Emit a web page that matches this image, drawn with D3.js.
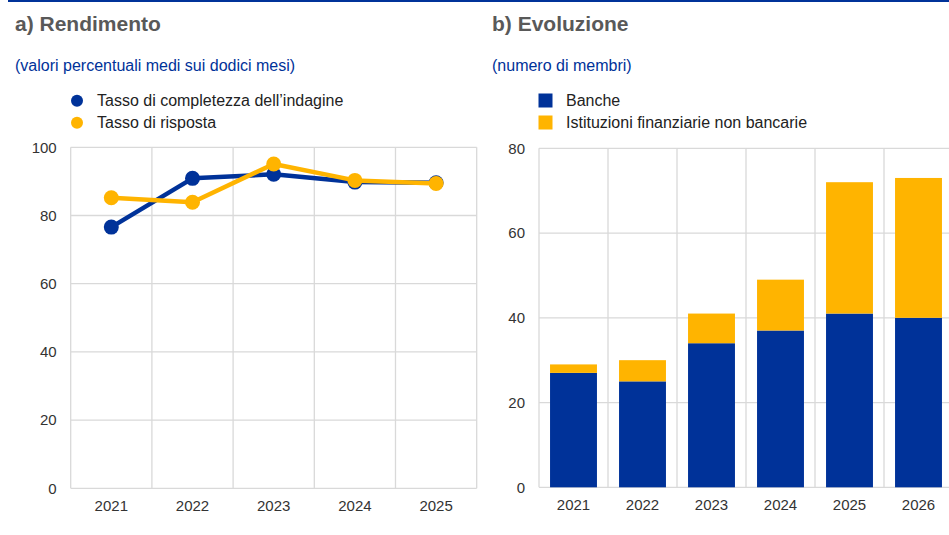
<!DOCTYPE html>
<html><head><meta charset="utf-8">
<script src="https://cdn.jsdelivr.net/npm/d3@7"></script>
<style>body{margin:0;background:#fff;}svg{display:block;font-family:"Liberation Sans",Arial,sans-serif;}</style>
</head><body>
<svg id="c" width="949" height="535"></svg>
<script>
// Panel a data
const yearsA = ["2021","2022","2023","2024","2025"];
const completezza = [76.6, 90.9, 92.1, 89.8, 89.6];
const risposta = [85.2, 83.9, 95.1, 90.3, 89.4];
const ticksA = [0,20,40,60,80,100];
// Panel b data
const yearsB = ["2021","2022","2023","2024","2025","2026"];
const banche = [27, 25, 34, 37, 41, 40];
const nonBancarie = [2, 5, 7, 12, 31, 33];
const ticksB = [0,20,40,60,80];

const BLUE = "#003299", YELLOW = "#FFB400", GRID = "#d9d9d9", TXT = "#333", TITLE = "#595959";
const svg = d3.select("#c");

svg.append("rect").attr("x",8).attr("y",0).attr("width",941).attr("height",2).attr("fill",BLUE);

function header(x, title, sub) {
  svg.append("text").attr("x",x).attr("y",31).attr("font-size",21).attr("font-weight","bold").attr("fill",TITLE).text(title);
  svg.append("text").attr("x",x).attr("y",71).attr("font-size",16).attr("fill",BLUE).text(sub);
}
header(15,"a) Rendimento","(valori percentuali medi sui dodici mesi)");
header(492,"b) Evoluzione","(numero di membri)");

// ---- Panel a
const xa = d3.scaleBand().domain(yearsA).range([70.7,476.7]);
const ya = d3.scaleLinear().domain([0,100]).range([488.3,147.3]);
const ga = svg.append("g");
ga.selectAll("line.h").data(ticksA).join("line").attr("x1",70.7).attr("x2",476.7)
  .attr("y1",d=>ya(d)).attr("y2",d=>ya(d)).attr("stroke",GRID).attr("stroke-width",1.3);
const vxA = yearsA.map(d=>xa(d)).concat([xa.range()[1]]);
ga.selectAll("line.v").data(vxA).join("line").attr("x1",d=>d).attr("x2",d=>d)
  .attr("y1",147.3).attr("y2",488.3).attr("stroke",GRID).attr("stroke-width",1.3);
const axA = d3.axisLeft(ya).tickValues(ticksA).tickSize(0).tickPadding(14);
const gya = svg.append("g").attr("transform","translate(70.7,0)").call(axA);
gya.select(".domain").remove();
gya.selectAll("text").attr("font-size",15).attr("fill",TXT).attr("font-family","Liberation Sans, Arial, sans-serif");
const axAx = d3.axisBottom(xa).tickSize(0).tickPadding(12);
const gxa = svg.append("g").attr("transform","translate(0,488.3)").call(axAx);
gxa.select(".domain").remove();
gxa.selectAll("text").attr("font-size",15).attr("fill",TXT).attr("font-family","Liberation Sans, Arial, sans-serif");

const line = d3.line().x((d,i)=>xa(yearsA[i])+xa.bandwidth()/2).y(d=>ya(d));
[[completezza,BLUE],[risposta,YELLOW]].forEach(([s,c])=>{
  ga.append("path").attr("d",line(s)).attr("fill","none").attr("stroke",c).attr("stroke-width",4.5).attr("stroke-linejoin","round");
  ga.selectAll(null).data(s).join("circle").attr("cx",(d,i)=>xa(yearsA[i])+xa.bandwidth()/2).attr("cy",d=>ya(d)).attr("r",7.5).attr("fill",c);
});

// legend a
const legA = [["Tasso di completezza dell\u2019indagine",BLUE],["Tasso di risposta",YELLOW]];
legA.forEach(([t,c],i)=>{
  svg.append("circle").attr("cx",77).attr("cy",100.7+i*22).attr("r",6).attr("fill",c);
  svg.append("text").attr("x",97).attr("y",106+i*22).attr("font-size",16).attr("fill","#222").text(t);
});

// ---- Panel b
const xb = d3.scaleBand().domain(yearsB).range([539,953]).paddingInner(0.32).paddingOuter(0.16);
const xbFull = d3.scaleBand().domain(yearsB).range([539,953]);
const yb = d3.scaleLinear().domain([0,80]).range([487.3,148.3]);
const gb = svg.append("g");
gb.selectAll("line.h").data(ticksB).join("line").attr("x1",539).attr("x2",953)
  .attr("y1",d=>yb(d)).attr("y2",d=>yb(d)).attr("stroke",GRID).attr("stroke-width",1.3);
gb.selectAll("line.v").data(yearsB.map(d=>xbFull(d))).join("line").attr("x1",d=>d).attr("x2",d=>d)
  .attr("y1",148.3).attr("y2",487.3).attr("stroke",GRID).attr("stroke-width",1.3);
const gyb = svg.append("g").attr("transform","translate(539,0)").call(d3.axisLeft(yb).tickValues(ticksB).tickSize(0).tickPadding(14));
gyb.select(".domain").remove();
gyb.selectAll("text").attr("font-size",15).attr("fill",TXT).attr("font-family","Liberation Sans, Arial, sans-serif");
const gxb = svg.append("g").attr("transform","translate(0,487.3)").call(d3.axisBottom(xbFull).tickSize(0).tickPadding(12));
gxb.select(".domain").remove();
gxb.selectAll("text").attr("font-size",15).attr("fill",TXT).attr("font-family","Liberation Sans, Arial, sans-serif");

const stackData = yearsB.map((y,i)=>({year:y, banche:banche[i], nonBancarie:nonBancarie[i]}));
const stack = d3.stack().keys(["banche","nonBancarie"])(stackData);
const colors = {banche:BLUE, nonBancarie:YELLOW};
stack.forEach(layer=>{
  gb.selectAll(null).data(layer).join("rect")
    .attr("x",d=>xb(d.data.year)).attr("width",xb.bandwidth())
    .attr("y",d=>yb(d[1])).attr("height",d=>yb(d[0])-yb(d[1]))
    .attr("fill",colors[layer.key]);
});

const legB = [["Banche",BLUE],["Istituzioni finanziarie non bancarie",YELLOW]];
legB.forEach(([t,c],i)=>{
  svg.append("rect").attr("x",538.5).attr("y",93.5+i*22).attr("width",14).attr("height",14).attr("fill",c);
  svg.append("text").attr("x",566).attr("y",106+i*22).attr("font-size",16).attr("fill","#222").text(t);
});
</script>
</body></html>
